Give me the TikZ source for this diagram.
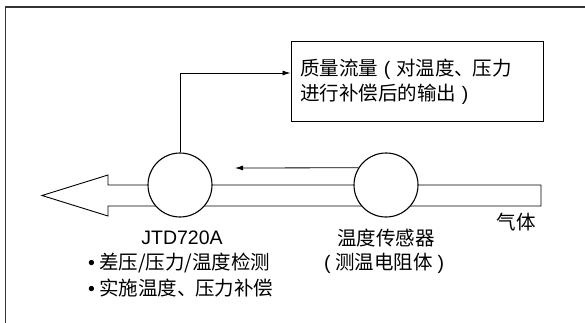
\documentclass[tikz,border=0pt]{standalone}
\usepackage{fontspec}
\setmainfont{Liberation Sans}
\newfontfamily\cjk{Noto Sans CJK SC}
\usetikzlibrary{arrows.meta,calc}
\newcommand\fwpunct[3][c]{\makebox[#2pt][#1]{#3}}
\newcommand\lpar[1]{\fwpunct{#1}{\rmfamily(}}
\newcommand\rpar[1]{\fwpunct{#1}{\rmfamily)}}
\begin{document}
\begin{tikzpicture}[x=1pt,y=-1pt,
  lbl/.style={font=\fontsize{19.5}{25}\selectfont, inner sep=0pt},
  meter/.style={draw, circle, line width=1.1pt, fill=white, minimum size=64pt, inner sep=0pt},
  flow/.style={-{Latex[length=8pt,width=5pt]}, line width=0.8pt},
  pipe/.style={line width=0.9pt},
  frame/.style={line width=1.3pt, draw=black!80}
]
\useasboundingbox (0,0) rectangle (585,323);
% frame
\draw[frame] (5.5,323) -- (5.5,7) -- (585,7);
% pipe with arrow head
\draw[pipe] (541,185) -- (108,185) -- (108,175) -- (42,195.5) -- (108,216) -- (108,206) -- (541,206) -- cycle;
% meters
\node[meter] (c1) at (180,185) {};
\node[meter] (c2) at (386,185) {};
% output box
\node[draw, line width=1pt, minimum width=252pt, minimum height=80pt, text width=234pt, inner sep=0pt, align=left, lbl] (box) at (417,82)
  {\cjk 质量流量\lpar{18}对温度\fwpunct[l]{18}{、}压力\\ 进行补偿后的输出\rpar{18}};
% connectors
\draw[flow] (c1.north) |- ($(box.west)+(0,-9)$);
\coordinate (sarrow) at (235,168);
\draw[flow] (c2.148) -- (sarrow);
% labels
\node[lbl] (jtd) at (182,238) {JTD720A};
\node[lbl, anchor=west] (b1) at (88,263) {\textbullet\hspace{4pt}{\cjk 差压/压力/温度检测}};
\node[lbl, anchor=west] (b2) at (88,288) {\textbullet\hspace{4pt}{\cjk 实施温度\fwpunct[l]{18}{、}压力补偿}};
\node[lbl] (ts1) at (386,238) {\cjk 温度传感器};
\node[lbl] (ts2) at (384,263) {\cjk \lpar{16}测温电阻体\rpar{16}};
\node[lbl] (gas) at (516,222) {\cjk 气体};
\end{tikzpicture}
\end{document}
